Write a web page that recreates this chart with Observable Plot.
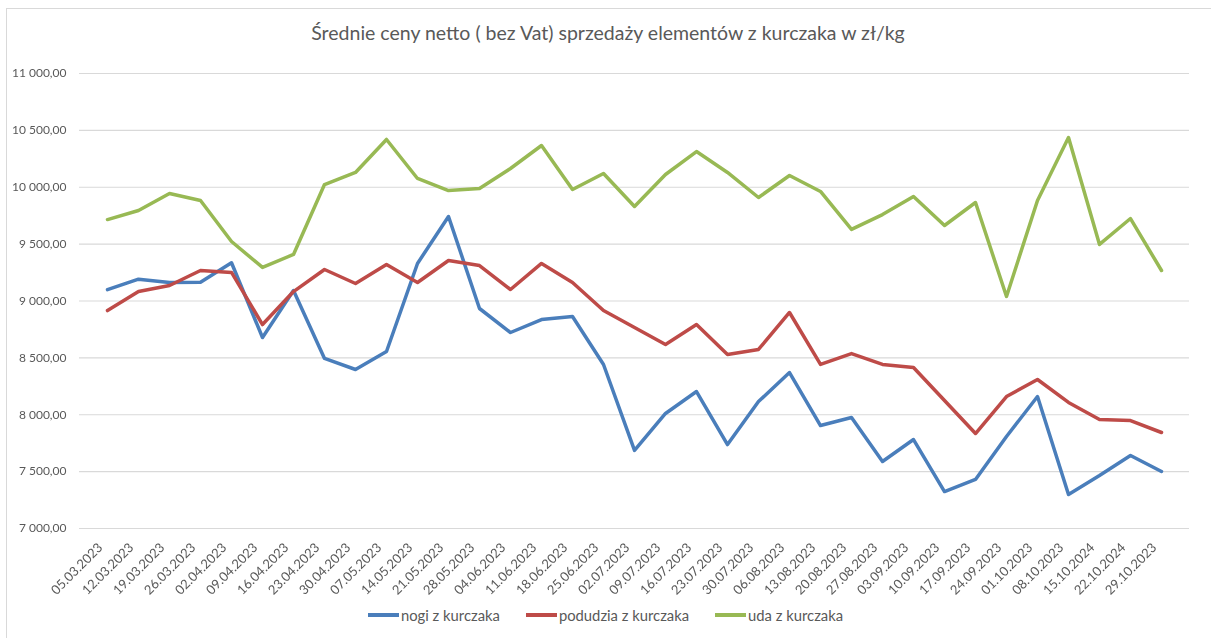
<!DOCTYPE html>
<html>
<head>
<meta charset="utf-8">
<script src="https://cdn.jsdelivr.net/npm/d3@7"></script>
<script src="https://cdn.jsdelivr.net/npm/@observablehq/plot@0.6"></script>
<style>
  html, body { margin: 0; padding: 0; background: #fff; }
  #wrap { position: relative; width: 1211px; height: 638px; overflow: hidden; font-family: Lato, "Open Sans", sans-serif; }
  #border { position: absolute; left: 6px; top: 8px; width: 1230px; height: 660px; border: 1px solid #d9d9d9; box-sizing: border-box; }
  #title { position: absolute; left: 0; top: 21px; width: 1216px; text-align: center; font-size: 19.5px; color: #595959; }
  #chart { position: absolute; left: 0; top: 0; will-change: transform; }
  #legend { position: absolute; left: 0; top: 606px; width: 1211px; display: flex; justify-content: center; gap: 26px; font-size: 14.8px; color: #595959; }
  .item { display: flex; align-items: center; }
  .sw { display: inline-block; width: 31px; height: 4px; margin-right: 2px; }
</style>
</head>
<body>
<div id="wrap">
  <div id="border"></div>
  <div id="title">Średnie ceny netto ( bez Vat) sprzedaży elementów z kurczaka w zł/kg</div>
  <div id="chart"></div>
  <div id="legend"></div>
</div>
<script>
const dates = ["05.03.2023","12.03.2023","19.03.2023","26.03.2023","02.04.2023","09.04.2023","16.04.2023","23.04.2023","30.04.2023","07.05.2023","14.05.2023","21.05.2023","28.05.2023","04.06.2023","11.06.2023","18.06.2023","25.06.2023","02.07.2023","09.07.2023","16.07.2023","23.07.2023","30.07.2023","06.08.2023","13.08.2023","20.08.2023","27.08.2023","03.09.2023","10.09.2023","17.09.2023","24.09.2023","01.10.2023","08.10.2023","15.10.2024","22.10.2024","29.10.2023"];

const nogi = [9100,9192,9163,9165,9336,8679,9092,8495,8398,8556,9330,9743,8934,8723,8837,8864,8442,7686,8011,8204,7738,8116,8371,7905,7976,7589,7782,7325,7431,7809,8160,7299,7466,7642,7501];
const podudzia = [8916,9083,9136,9268,9251,8793,9083,9277,9154,9321,9163,9356,9312,9101,9330,9163,8916,8767,8618,8793,8530,8574,8899,8442,8538,8442,8415,8125,7835,8160,8310,8108,7958,7949,7844];
const uda = [9716,9796,9945,9884,9523,9295,9409,10024,10130,10420,10077,9971,9989,10165,10367,9980,10121,9831,10112,10314,10130,9910,10103,9963,9629,9760,9919,9664,9866,9040,9884,10437,9497,9725,9268];

const seriesNames = ["nogi z kurczaka", "podudzia z kurczaka", "uda z kurczaka"];
const seriesColors = ["#4a7ebb", "#be4b48", "#98b954"];
const yTicks = [7000, 7500, 8000, 8500, 9000, 9500, 10000, 10500, 11000];

const locale = d3.formatLocale({decimal: ",", thousands: "\u00a0", grouping: [3], currency: ["", " zł"]});
const fmt = locale.format(",.2f");

const allSeries = [nogi, podudzia, uda];
const data = allSeries.flatMap((vals, si) => vals.map((v, i) => ({date: dates[i], value: v, series: seriesNames[si]})));

const plot = Plot.plot({
  width: 1211,
  height: 600,
  marginLeft: 79,
  marginRight: 22,
  marginTop: 73,
  marginBottom: 72,
  style: {fontFamily: "Lato, 'Open Sans', sans-serif", fontSize: "12px", color: "#595959", background: "transparent", overflow: "visible"},
  x: {type: "point", domain: dates, padding: 0.5, label: null, axis: null},
  y: {domain: [7000, 11000], ticks: yTicks, tickFormat: fmt, label: null, tickSize: 0, tickPadding: 13},
  color: {domain: seriesNames, range: seriesColors},
  marks: [
    Plot.gridY(yTicks, {stroke: "#d9d9d9", strokeOpacity: 1, strokeWidth: 1.2}),
    Plot.axisX({tickRotate: -45, tickSize: 0, tickPadding: 17, dx: -7, fontSize: 13, label: null, fill: "#595959"}),
    Plot.lineY(data, {x: "date", y: "value", z: "series", stroke: "series", strokeWidth: 3.5, strokeLinejoin: "round", strokeLinecap: "round"})
  ]
});
document.getElementById("chart").appendChild(plot);

const legend = document.getElementById("legend");
seriesNames.forEach((name, i) => {
  const it = document.createElement("div");
  it.className = "item";
  const sw = document.createElement("span");
  sw.className = "sw";
  sw.style.background = seriesColors[i];
  it.appendChild(sw);
  const t = document.createElement("span");
  t.textContent = name;
  it.appendChild(t);
  legend.appendChild(it);
});
</script>
</body>
</html>
